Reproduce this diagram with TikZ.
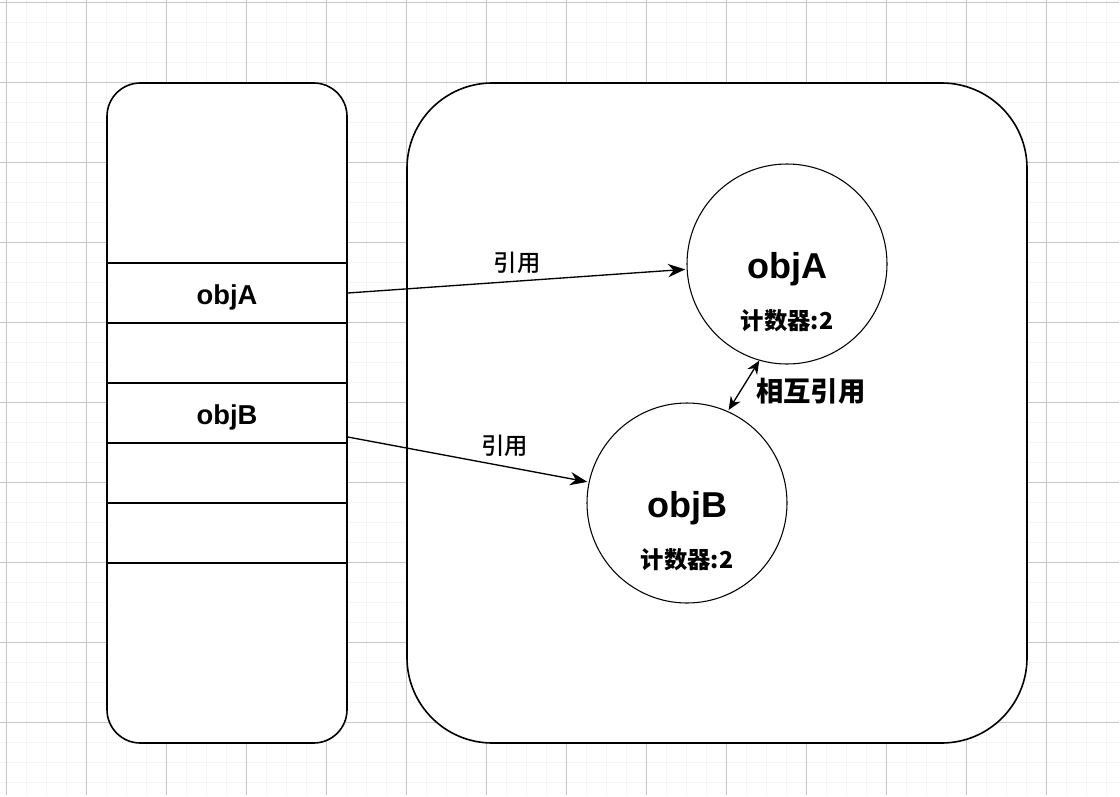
\documentclass[tikz,border=0pt]{standalone}
\usepackage{fontspec}
\setmainfont{Liberation Sans}
\newfontfamily\cjk{Noto Sans CJK SC}
\newfontfamily\cjkmedium{Noto Sans CJK SC Medium}
\usetikzlibrary{arrows.meta}

\begin{document}
\begin{tikzpicture}[x=0.75pt, y=-0.75pt, shorten >=1pt, >={Stealth[length=13pt,width=10pt]}]
    \tikzstyle{grid minor}=[draw=black!4, line width=0.75pt]
    \tikzstyle{grid major}=[draw=black!22, line width=0.75pt]
    \tikzstyle{frame}=[draw=black, fill=white, line width=1.2pt, inner sep=0pt]
    \tikzstyle{slot}=[draw=black, line width=1.2pt, minimum width=180pt, minimum height=45pt, inner sep=0pt, text height=16.5pt, text depth=0pt, font=\bfseries\fontsize{20.5}{20.5}\selectfont]
    \tikzstyle{object}=[circle, draw=black, fill=white, line width=0.8pt, minimum size=150pt, inner sep=0pt]
    \tikzstyle{object name}=[anchor=base, inner sep=0pt, font=\bfseries\fontsize{27}{27}\selectfont]
    \tikzstyle{counter}=[anchor=base, inner sep=0pt, font=\cjk\bfseries\fontsize{17.5}{17.5}\selectfont]
    \tikzstyle{ref}=[->, line width=1pt]
    \tikzstyle{ref label}=[inner sep=0pt, font=\cjkmedium\fontsize{17.5}{17.5}\selectfont]

    \useasboundingbox (0,0) rectangle (1120,796);

    % Draw the background grid
    \foreach \x in {6.7,26.7,...,1120}
        \draw[grid minor] (\x,0) -- (\x,796);
    \foreach \y in {2,22,...,796}
        \draw[grid minor] (0,\y) -- (1120,\y);
    \foreach \x in {6.7,86.7,...,1120}
        \draw[grid major] (\x,0) -- (\x,796);
    \foreach \y in {2,82,...,796}
        \draw[grid major] (0,\y) -- (1120,\y);

    % Draw the stack and the heap
    \node[frame, rounded corners=25pt, minimum width=180pt, minimum height=495pt] (stack) at (227,413) {};
    \node[frame, rounded corners=64pt, minimum width=465pt, minimum height=495pt] (heap) at (717,413) {};

    % Draw the stack slots
    \foreach \name / \y / \txt in {1/293/objA, 2/353/, 3/413/objB, 4/473/, 5/533/}
        \node[slot] (S-\name) at (227,\y) {\txt};

    % Draw the objects on the heap
    \node[object] (A) at (787,264) {};
    \node[object name] (A-name) at ([yshift=-10.5pt]A.center) {objA};
    \node[counter] (A-count) at ([yshift=-49pt]A.center) {计数器:2};

    \node[object] (B) at (687,503) {};
    \node[object name] (B-name) at ([yshift=-10.5pt]B.center) {objB};
    \node[counter] (B-count) at ([yshift=-49pt]B.center) {计数器:2};

    % Connect the slots with the objects they point to
    \draw[ref] (S-1.east) -- node[ref label, above=5pt] (ref-A) {引用} (A.183);
    \draw[ref] ([yshift=-18pt]S-3.east) -- node[ref label, pos=0.65, above=7pt] (ref-B) {引用} (B.168);

    % The two objects point to each other
    \draw[<->, line width=1pt, >={Stealth[length=10pt,width=8.5pt]}] (A.254) -- node[right=9pt, yshift=-4pt, inner sep=0pt, font=\cjk\bfseries\fontsize{20.5}{20.5}\selectfont] (mutual) {相互引用} (B.66);
\end{tikzpicture}
\end{document}
